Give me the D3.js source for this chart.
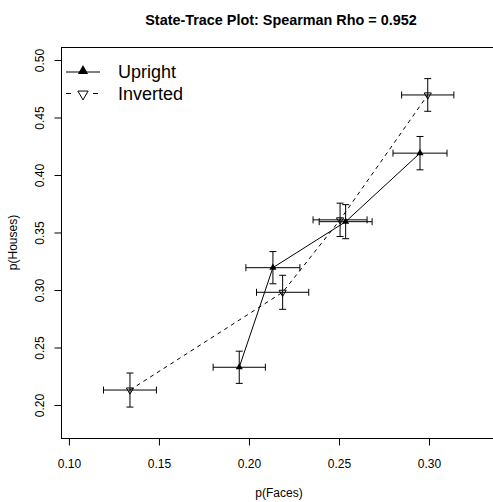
<!DOCTYPE html>
<html>
<head>
<meta charset="utf-8">
<script src="https://cdn.jsdelivr.net/npm/d3@7"></script>
<style>
  body { margin: 0; background: #fff; }
  svg { display: block; font-family: "Liberation Sans", Arial, sans-serif; }
</style>
</head>
<body>
<div id="plot"></div>
<script>
// State-trace data: p(Faces) on x, p(Houses) on y, with +/- error
var faceUp      = [0.1946, 0.2133, 0.2537, 0.2950];
var houseUp     = [0.2328, 0.3194, 0.3594, 0.4190];
var faceUpErr   = [0.0145, 0.0150, 0.0147, 0.0150];
var houseUpErr  = [0.0140, 0.0140, 0.0148, 0.0145];

var faceInv     = [0.1339, 0.2187, 0.2506, 0.2993];
var houseInv    = [0.2130, 0.2980, 0.3610, 0.4696];
var faceInvErr  = [0.0147, 0.0145, 0.0150, 0.0145];
var houseInvErr = [0.0148, 0.0148, 0.0145, 0.0142];

var xTicks = [0.10, 0.15, 0.20, 0.25, 0.30];
var yTicks = [0.20, 0.25, 0.30, 0.35, 0.40, 0.45, 0.50];
var legendLabels = ["Upright", "Inverted"];

var width = 493, height = 502;
// plot region (note: "top" is reserved on window, so prefix names)
var pLeft = 61, pRight = 503, pTop = 47, pBottom = 438;

var svg = d3.select("#plot").append("svg")
    .attr("width", width)
    .attr("height", height);

var x = d3.scaleLinear().domain([0.0956, 0.3411]).range([pLeft, pRight]);
var y = d3.scaleLinear().domain([0.1713, 0.5113]).range([pBottom, pTop]);

// title
svg.append("text")
    .attr("x", (pLeft + pRight) / 2 - 1)
    .attr("y", 25)
    .attr("text-anchor", "middle")
    .style("font-size", "14.4px")
    .style("font-weight", "bold")
    .text("State-Trace Plot: Spearman Rho = 0.952");

// box
svg.append("rect")
    .attr("x", pLeft + 0.5).attr("y", pTop + 0.5)
    .attr("width", pRight - pLeft).attr("height", pBottom - pTop)
    .attr("fill", "none").attr("stroke", "#000");

// x axis
var xAxis = svg.append("g")
    .attr("transform", "translate(0," + (pBottom + 0.5) + ")")
    .call(d3.axisBottom(x).tickValues(xTicks).tickSize(7).tickPadding(14)
        .tickFormat(d3.format(".2f")));
xAxis.select(".domain").remove();
xAxis.selectAll("text").style("font-size", "12px").attr("fill", "#000")
    .style("font-family", "Liberation Sans, Arial, sans-serif");
xAxis.selectAll("line").attr("stroke", "#000");

// y axis, labels rotated as in R
var yAxis = svg.append("g")
    .attr("transform", "translate(" + (pLeft + 0.5) + ",0)")
    .call(d3.axisLeft(y).tickValues(yTicks).tickSize(7)
        .tickFormat(d3.format(".2f")));
yAxis.select(".domain").remove();
yAxis.selectAll("line").attr("stroke", "#000");
yAxis.selectAll("text")
    .attr("x", null).attr("dy", null)
    .attr("text-anchor", "middle")
    .attr("transform", "translate(-18,0) rotate(-90)")
    .attr("fill", "#000")
    .style("font-size", "12px")
    .style("font-family", "Liberation Sans, Arial, sans-serif");

// axis titles
svg.append("text")
    .attr("x", 279).attr("y", 497)
    .attr("text-anchor", "middle")
    .style("font-size", "12px")
    .text("p(Faces)");
svg.append("text")
    .attr("transform", "translate(17," + ((pTop + pBottom) / 2) + ") rotate(-90)")
    .attr("text-anchor", "middle")
    .style("font-size", "12px")
    .text("p(Houses)");

var up = faceUp.map(function(d, i) {
  return { fx: d, hy: houseUp[i], ex: faceUpErr[i], ey: houseUpErr[i] };
});
var inv = faceInv.map(function(d, i) {
  return { fx: d, hy: houseInv[i], ex: faceInvErr[i], ey: houseInvErr[i] };
});

var line = d3.line()
    .x(function(d) { return x(d.fx); })
    .y(function(d) { return y(d.hy); });

svg.append("path").datum(up)
    .attr("d", line).attr("fill", "none").attr("stroke", "#000");
svg.append("path").datum(inv)
    .attr("d", line).attr("fill", "none").attr("stroke", "#000")
    .attr("stroke-dasharray", "4,4");

// error bars
var cap = 3.5;
function errorBars(data) {
  var g = svg.append("g").attr("stroke", "#000").attr("fill", "none");
  data.forEach(function(d) {
    var cx = x(d.fx), cy = y(d.hy);
    var x0 = x(d.fx - d.ex), x1 = x(d.fx + d.ex);
    var y0 = y(d.hy - d.ey), y1 = y(d.hy + d.ey);
    g.append("path").attr("d",
      "M" + x0 + "," + cy + "H" + x1 +
      "M" + x0 + "," + (cy - cap) + "V" + (cy + cap) +
      "M" + x1 + "," + (cy - cap) + "V" + (cy + cap) +
      "M" + cx + "," + y0 + "V" + y1 +
      "M" + (cx - cap) + "," + y0 + "H" + (cx + cap) +
      "M" + (cx - cap) + "," + y1 + "H" + (cx + cap));
  });
}
errorBars(up);
errorBars(inv);

// points
var triSmall = d3.symbol().type(d3.symbolTriangle).size(22);
var triBig = d3.symbol().type(d3.symbolTriangle).size(45);

svg.append("g").selectAll("path").data(up).enter().append("path")
    .attr("d", triSmall)
    .attr("transform", function(d) { return "translate(" + x(d.fx) + "," + y(d.hy) + ")"; })
    .attr("fill", "#000");
svg.append("g").selectAll("path").data(inv).enter().append("path")
    .attr("d", triSmall)
    .attr("transform", function(d) { return "translate(" + x(d.fx) + "," + y(d.hy) + ") rotate(180)"; })
    .attr("fill", "none").attr("stroke", "#000");

// legend
var lg = svg.append("g");
lg.append("line").attr("x1", 66).attr("x2", 100).attr("y1", 72).attr("y2", 72)
    .attr("stroke", "#000");
lg.append("path").attr("d", triBig).attr("transform", "translate(83,71)").attr("fill", "#000");
lg.append("line").attr("x1", 66).attr("x2", 98).attr("y1", 93.5).attr("y2", 93.5)
    .attr("stroke", "#000").attr("stroke-dasharray", "5,22");
lg.append("path").attr("d", triBig).attr("transform", "translate(83,94) rotate(180)")
    .attr("fill", "none").attr("stroke", "#000");
lg.selectAll("text").data(legendLabels).enter().append("text")
    .attr("x", 118)
    .attr("y", function(d, i) { return 78 + i * 22; })
    .style("font-size", "18px")
    .text(function(d) { return d; });
</script>
</body>
</html>
